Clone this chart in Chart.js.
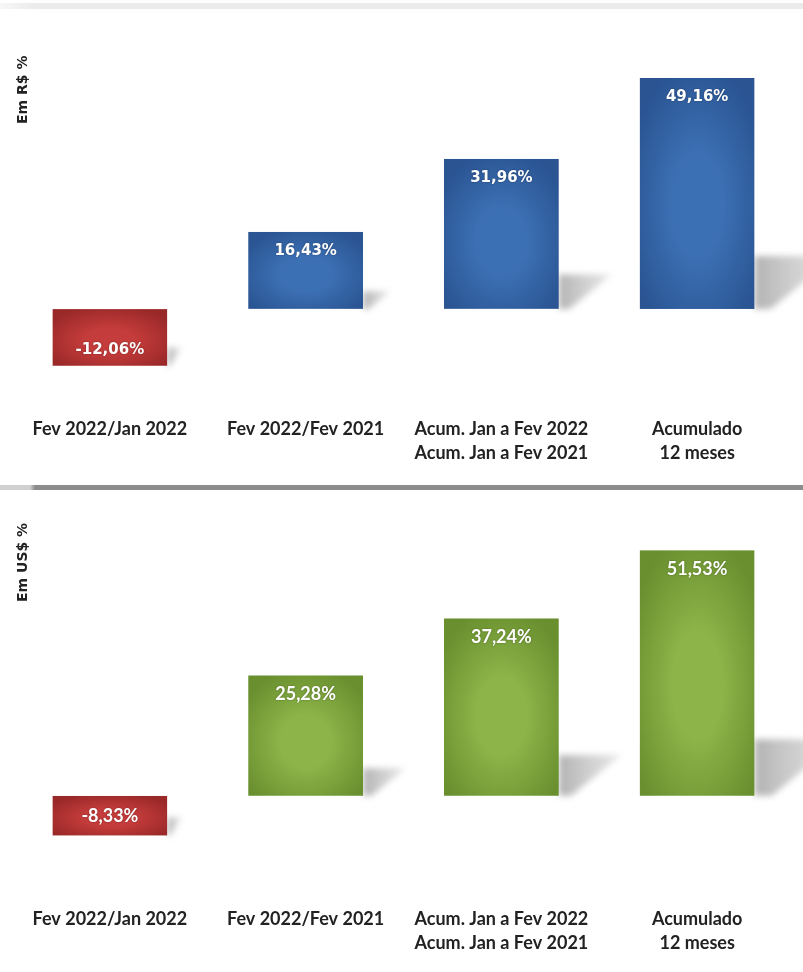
<!DOCTYPE html>
<html>
<head>
<meta charset="utf-8">
<script src="https://cdn.jsdelivr.net/npm/chart.js@4.4.0/dist/chart.umd.min.js"></script>
<style>
  body { margin: 0; background: #fff; width: 803px; height: 972px; position: relative; overflow: hidden; }
  .box { position: absolute; left: 0; width: 803px; }
  .topline { position: absolute; left: 0; top: 3px; width: 803px; height: 6px;
    background: linear-gradient(to right, #f7f7f7 0px, #ebebeb 35px, #ebebeb 100%); }
  .sep { position: absolute; left: 0; top: 485px; width: 803px; height: 5px;
    background: linear-gradient(to right, #d0d0d0 0px, #d0d0d0 30px, #8c8c8c 35px, #8c8c8c 100%); }
  .ytitle { position: absolute; font: bold 14px "DejaVu Sans", sans-serif; color: #222;
    transform: rotate(-90deg); transform-origin: left top; white-space: nowrap; }
</style>
</head>
<body>
<div class="topline"></div>
<div class="box" style="top:12px;height:470px"><canvas id="chartBRL"></canvas></div>
<div class="sep"></div>
<div class="box" style="top:492px;height:480px"><canvas id="chartUSD"></canvas></div>
<div class="ytitle" id="titleBRL" style="left:14px;top:124px"></div>
<div class="ytitle" id="titleUSD" style="left:14px;top:602px"></div>
<script>
// categories (multi-line labels)
var categories = [
    ['Fev 2022/Jan 2022'],
    ['Fev 2022/Fev 2021'],
    ['Acum. Jan a Fev 2022', 'Acum. Jan a Fev 2021'],
    ['Acumulado', '12 meses']
];
// variation in R$ and in US$
var valuesBRL = [-12.06, 16.43, 31.96, 49.16];
var valuesUSD = [-8.33, 25.28, 37.24, 51.53];
var axisTitles = ['Em R$ %', 'Em US$ %'];

document.getElementById('titleBRL').textContent = axisTitles[0];
document.getElementById('titleUSD').textContent = axisTitles[1];

var blue = ['#3c70b4', '#2a5492'];
var green = ['#8cb448', '#698f2f'];
var red = ['#c43c3b', '#992828'];

function fmt(v) {
    return v.toFixed(2).replace('.', ',') + '%';
}

// elliptic "from center" gradient, like the office charts
function barFill(context, colors) {
    var chart = context.chart;
    var v = context.raw;
    var c = v < 0 ? red : colors;
    if (!chart.chartArea) return c[1];
    var xs = chart.scales.x, ys = chart.scales.y;
    var w = Math.round(xs.width / categories.length * 0.587);
    var top = ys.getPixelForValue(Math.max(v, 0));
    var bot = ys.getPixelForValue(Math.min(v, 0));
    var h = Math.max(2, Math.round(bot - top));
    var left = xs.getPixelForValue(context.dataIndex) - w / 2;
    var off = document.createElement('canvas');
    off.width = w; off.height = h;
    var octx = off.getContext('2d');
    var g = octx.createRadialGradient(0, 0.1, 0, 0, 0.1, 1.25);
    g.addColorStop(0, c[0]);
    g.addColorStop(0.35, c[0]);
    g.addColorStop(1, c[1]);
    octx.setTransform(w / 2, 0, 0, h / 2, w / 2, h / 2);
    octx.fillStyle = g;
    octx.fillRect(-1, -1, 2, 2);
    var p = chart.ctx.createPattern(off, 'no-repeat');
    p.setTransform(new DOMMatrix().translate(left, top));
    return p;
}

// floor shadow behind each bar
var barShadows = {
    id: 'barShadows',
    beforeDatasetsDraw: function (chart) {
        var ctx = chart.ctx;
        var meta = chart.getDatasetMeta(0);
        ctx.save();
        ctx.filter = 'blur(3px)';
        meta.data.forEach(function (bar, i) {
            var v = chart.data.datasets[0].data[i];
            var right = bar.x + bar.width / 2;
            var bottom, sh, sw;
            if (v >= 0) {
                bottom = bar.base;
                var h = bar.base - bar.y;
                sh = h * 0.23; sw = h * 0.35;
            } else {
                bottom = bar.y;
                sh = 18; sw = 14;
            }
            var g = ctx.createLinearGradient(right, 0, right + sw, 0);
            g.addColorStop(0, 'rgba(160,160,160,0.8)');
            g.addColorStop(1, 'rgba(200,200,200,0.45)');
            ctx.fillStyle = g;
            ctx.beginPath();
            ctx.moveTo(right, bottom);
            ctx.lineTo(right, bottom - sh);
            ctx.lineTo(right + sw, bottom - sh);
            ctx.lineTo(right + sw * 0.2, bottom);
            ctx.closePath();
            ctx.fill();
        });
        ctx.restore();
    }
};

var valueLabels = {
    id: 'valueLabels',
    afterDatasetsDraw: function (chart, args, opts) {
        var ctx = chart.ctx;
        var meta = chart.getDatasetMeta(0);
        ctx.save();
        ctx.font = opts.font;
        ctx.fillStyle = '#ffffff';
        ctx.textAlign = 'center';
        ctx.textBaseline = 'middle';
        ctx.shadowColor = 'rgba(0,0,0,0.35)';
        ctx.shadowBlur = 2;
        meta.data.forEach(function (bar, i) {
            var v = chart.data.datasets[0].data[i];
            var y = v >= 0 ? bar.y + opts.offset : bar.y - opts.offsetNeg;
            ctx.fillText(fmt(v), bar.x, y);
        });
        ctx.restore();
    }
};

function makeChart(id, values, colors, yMin, yMax, labelFont, offsetNeg) {
    return new Chart(document.getElementById(id), {
        type: 'bar',
        data: {
            labels: categories,
            datasets: [{
                data: values,
                backgroundColor: function (context) { return barFill(context, colors); },
                borderWidth: 0,
                categoryPercentage: 1,
                barPercentage: 0.587
            }]
        },
        options: {
            responsive: true,
            maintainAspectRatio: false,
            animation: false,
            events: [],
            layout: { padding: { left: 12, right: 8, top: 0, bottom: 9 } },
            plugins: {
                legend: { display: false },
                tooltip: { enabled: false },
                valueLabels: { font: labelFont, offset: 19, offsetNeg: offsetNeg }
            },
            scales: {
                x: {
                    grid: { display: false },
                    border: { display: false },
                    ticks: {
                        color: '#222',
                        padding: 8,
                        maxRotation: 0,
                        autoSkip: false,
                        font: { family: 'Lato', weight: 'bold', size: 18, lineHeight: 1.33 }
                    }
                },
                y: { display: false, min: yMin, max: yMax }
            }
        },
        plugins: [barShadows, valueLabels]
    });
}

makeChart('chartBRL', valuesBRL, blue, -19.57, 63.19, 'bold 15px "DejaVu Sans"', 16);
makeChart('chartUSD', valuesUSD, green, -19.98, 63.73, 'bold 18px Lato', 19);
</script>
</body>
</html>
